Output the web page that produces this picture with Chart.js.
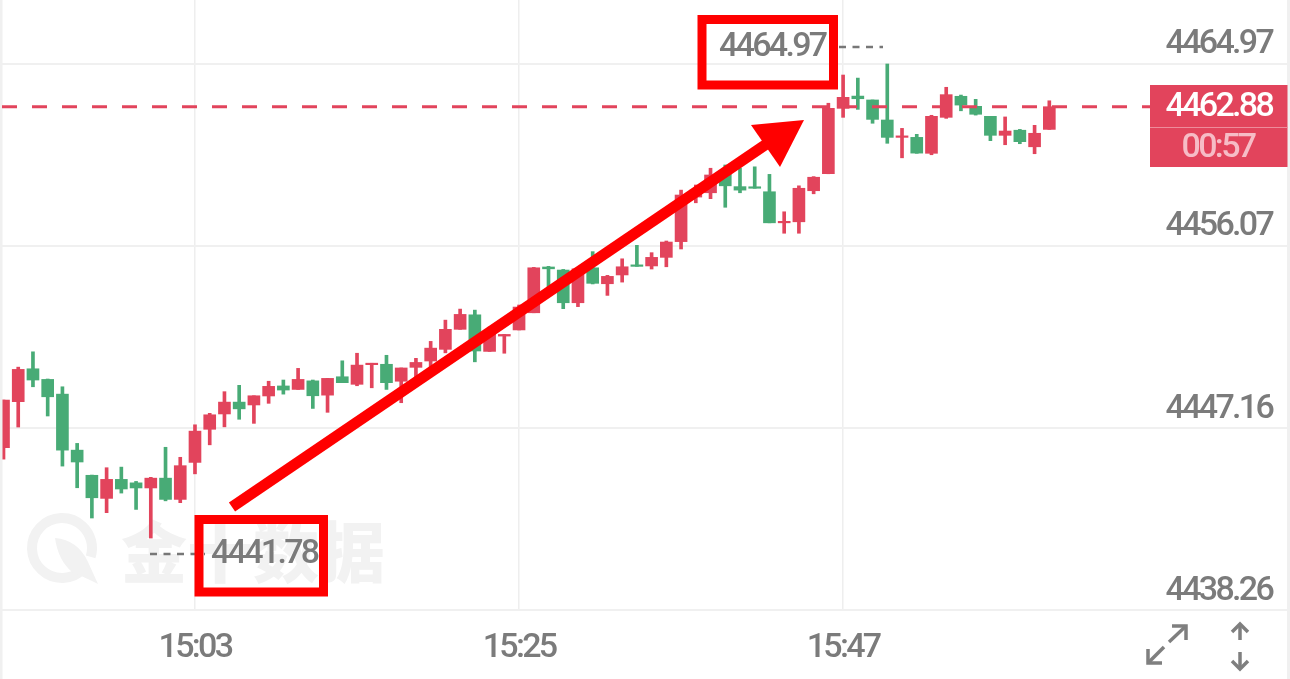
<!DOCTYPE html>
<html>
<head>
<meta charset="utf-8">
<style>
html, body { margin: 0; padding: 0; background: #fff; overflow: hidden; }
canvas { display: block; }
</style>
<script src="https://cdn.jsdelivr.net/npm/chart.js@4/dist/chart.umd.min.js"></script>
</head>
<body>
<canvas id="chart1" width="1290" height="679"></canvas>
<script>
// one candle per minute, index 0 = 14:50
const opens = [4446.20,4448.45,4450.06,4449.54,4448.82,4446.08,4444.85,4443.72,4444.65,4444.48,4444.23,4444.71,4443.67,4445.48,4447.10,4447.85,4448.43,4448.29,4448.73,4449.22,4449.05,4449.47,4448.77,4449.67,4449.30,4450.26,4450.28,4449.45,4450.13,4450.44,4451.01,4451.99,4452.70,4450.91,4451.66,4451.96,4452.80,4455.04,4454.89,4453.29,4455.00,4454.22,4454.65,4455.10,4455.09,4455.51,4456.28,4458.46,4458.67,4459.69,4458.97,4458.94,4458.72,4457.20,4457.25,4458.77,4459.60,4462.80,4463.40,4463.21,4462.23,4461.38,4461.38,4460.60,4462.36,4463.39,4462.90,4462.41,4461.48,4461.73,4460.92,4461.77];
const highs = [4448.53,4450.14,4450.89,4449.56,4449.18,4446.41,4444.86,4445.22,4445.25,4444.55,4444.75,4446.22,4445.73,4447.32,4447.88,4448.94,4449.25,4448.74,4449.45,4449.51,4450.08,4449.51,4449.59,4450.45,4450.82,4450.33,4450.72,4450.10,4450.57,4451.40,4452.44,4452.98,4452.93,4452.10,4451.74,4453.18,4455.02,4455.07,4454.92,4454.95,4455.79,4454.63,4455.44,4456.10,4455.74,4456.31,4458.80,4459.05,4459.87,4460.03,4459.88,4459.94,4459.57,4457.74,4459.01,4459.46,4463.05,4464.43,4464.28,4463.21,4464.97,4461.82,4461.53,4462.46,4463.83,4463.45,4463.24,4462.41,4462.38,4461.77,4461.97,4463.17];
const lows = [4445.64,4447.21,4449.18,4447.75,4445.30,4444.24,4442.76,4443.02,4443.98,4443.18,4441.78,4443.60,4443.51,4444.92,4446.34,4447.22,4447.59,4447.39,4448.37,4448.82,4449.05,4448.12,4447.93,4449.38,4449.23,4449.13,4449.05,4448.40,4449.59,4450.08,4450.84,4451.99,4450.40,4450.91,4450.82,4451.96,4452.80,4454.04,4453.00,4453.10,4454.21,4453.65,4454.30,4455.07,4454.94,4455.05,4455.92,4458.18,4458.38,4457.96,4458.67,4458.89,4457.20,4456.69,4456.69,4458.62,4459.60,4462.36,4462.75,4462.07,4461.09,4460.38,4460.60,4460.53,4462.31,4462.68,4462.47,4461.22,4461.02,4461.07,4460.58,4461.77];
const closes = [4448.53,4450.03,4449.51,4448.69,4446.08,4445.50,4443.75,4444.65,4444.18,4444.23,4444.71,4443.67,4445.32,4447.01,4447.81,4448.43,4448.10,4448.74,4449.20,4449.02,4449.54,4448.74,4449.59,4449.38,4450.24,4450.33,4449.38,4450.10,4450.37,4451.07,4451.99,4452.72,4450.93,4451.81,4451.74,4453.08,4455.00,4454.95,4453.29,4454.95,4454.24,4454.58,4455.05,4455.07,4455.51,4456.26,4458.56,4458.80,4459.54,4459.01,4458.80,4458.89,4457.20,4457.24,4458.89,4459.43,4462.80,4463.34,4463.27,4462.26,4461.38,4461.41,4460.61,4462.41,4463.47,4462.96,4462.51,4461.48,4461.69,4461.17,4461.58,4462.88];

const yTicks = [4438.26, 4447.16, 4456.07, 4464.97];
const xTickIndexes = [13, 35, 57];
const xTickLabels = ["15:03", "15:25", "15:47"];
const highLabel = "4464.97";
const lowLabel = "4441.78";
const lastPrice = 4462.88;
const lastLabel = "4462.88";
const countdown = "00:57";
const watermark = "金十数据";

const RED = "#e2445c";
const GREEN = "#48ab76";
const GREY = "#7b7b7b";
const PEN = "#ff0000";
const labelFont = '500 34px Roboto';
const squeeze = "-2.7px";

function candleColor(ctx) {
    return closes[ctx.dataIndex] >= opens[ctx.dataIndex] ? RED : GREEN;
}

function line(ctx, pts) {
    ctx.beginPath();
    pts.forEach((p, i) => i ? ctx.lineTo(p[0], p[1]) : ctx.moveTo(p[0], p[1]));
    ctx.stroke();
}

// watermark sits behind the candles
const behind = {
    id: "behind",
    beforeDatasetsDraw(chart) {
        const ctx = chart.ctx;
        ctx.save();
        ctx.letterSpacing = "0px";
        ctx.strokeStyle = "#f2f2f2";
        ctx.fillStyle = "#f2f2f2";
        ctx.lineWidth = 10;
        ctx.beginPath();
        ctx.arc(62, 548, 30, 0.75, Math.PI * 2 + 0.3);
        ctx.stroke();
        ctx.beginPath();
        ctx.moveTo(55, 538);
        ctx.quadraticCurveTo(78, 540, 88, 562);
        ctx.lineTo(98, 584);
        ctx.quadraticCurveTo(78, 574, 72, 572);
        ctx.quadraticCurveTo(58, 560, 55, 538);
        ctx.fill();
        ctx.font = '900 66px "Noto Sans CJK SC"';
        ctx.textAlign = "left";
        ctx.textBaseline = "middle";
        ctx.fillText(watermark, 121, 552);
        ctx.restore();
    }
};

// last price line, high/low notes, hand drawn boxes + arrow, price tag and corner icons
const overlay = {
    id: "overlay",
    beforeDraw(chart) {
        chart.ctx.letterSpacing = squeeze;
    },
    afterDraw(chart) {
        const ctx = chart.ctx;
        const y = chart.scales.y.getPixelForValue(lastPrice);

        ctx.save();
        ctx.letterSpacing = squeeze;

        // faint frame at both sides
        ctx.strokeStyle = "#f0f0f0";
        ctx.lineWidth = 3;
        line(ctx, [[1, 0], [1, 679]]);
        line(ctx, [[1288.5, 0], [1288.5, 679]]);

        ctx.strokeStyle = RED;
        ctx.lineWidth = 3;
        ctx.setLineDash([15, 15]);
        ctx.lineDashOffset = -2;
        line(ctx, [[0, y], [1150, y]]);

        ctx.strokeStyle = "#777";
        ctx.lineWidth = 2.7;
        ctx.setLineDash([7, 6.5]);
        ctx.lineDashOffset = 0;
        line(ctx, [[839, 47], [883, 47]]);
        line(ctx, [[150, 554], [205, 554]]);
        ctx.setLineDash([]);

        ctx.font = labelFont;
        ctx.fillStyle = GREY;
        ctx.textAlign = "left";
        ctx.textBaseline = "middle";
        ctx.fillText(highLabel, 719, 47);
        ctx.fillText(lowLabel, 211, 554);

        ctx.strokeStyle = PEN;
        ctx.lineWidth = 9;
        ctx.strokeRect(702, 19.5, 131.5, 65.5);
        ctx.strokeRect(199, 519.5, 124.5, 72.5);

        ctx.lineWidth = 11;
        line(ctx, [[232, 507], [768, 143]]);
        ctx.fillStyle = PEN;
        ctx.beginPath();
        ctx.moveTo(804, 120);
        ctx.lineTo(751, 125);
        ctx.lineTo(780, 167);
        ctx.closePath();
        ctx.fill();

        ctx.fillStyle = RED;
        ctx.fillRect(1150, 85, 137.5, 82);
        ctx.fillStyle = "#ee8c9b";
        ctx.fillRect(1150, 127, 137.5, 1);
        ctx.fillStyle = "#fff";
        ctx.textAlign = "right";
        ctx.fillText(lastLabel, 1272, 107);
        ctx.fillStyle = "#f6bcc6";
        ctx.textAlign = "center";
        ctx.fillText(countdown, 1218, 148);

        ctx.strokeStyle = "#7f7f7f";
        ctx.lineWidth = 3.5;
        line(ctx, [[1169, 642], [1186, 626]]);
        line(ctx, [[1172, 626], [1186, 626], [1186, 640]]);
        line(ctx, [[1164, 647], [1148, 663]]);
        line(ctx, [[1148, 649], [1148, 663], [1162, 663]]);
        line(ctx, [[1240, 640], [1240, 625]]);
        line(ctx, [[1232, 632], [1240, 624], [1248, 632]]);
        line(ctx, [[1240, 652], [1240, 668]]);
        line(ctx, [[1232, 661], [1240, 669], [1248, 661]]);
        ctx.restore();
    }
};

new Chart("chart1", {
    type: "bar",
    plugins: [behind, overlay],
    data: {
        datasets: [{
            // wicks
            data: lows.map((l, i) => ({x: i, y: [l, highs[i]]})),
            backgroundColor: candleColor,
            barThickness: 3,
            grouped: false,
            order: 2
        }, {
            // bodies
            data: opens.map((o, i) => ({x: i, y: [o, closes[i]]})),
            backgroundColor: candleColor,
            barThickness: 12,
            minBarLength: 1.5,
            grouped: false,
            order: 1
        }]
    },
    options: {
        responsive: false,
        animation: false,
        layout: {padding: 0},
        plugins: {legend: {display: false}, tooltip: {enabled: false}},
        scales: {
            x: {
                type: "linear",
                offset: false,
                min: -0.2376,
                max: 87.34,
                border: {display: false},
                grid: {color: "#eeeeee", lineWidth: 1.5, drawTicks: false, offset: false},
                afterBuildTicks: scale => {
                    scale.ticks = xTickIndexes.map(value => ({value: value}));
                },
                afterFit: scale => {
                    scale.height = 69;
                    scale.paddingLeft = scale.paddingRight = 0;
                },
                ticks: {
                    autoSkip: false,
                    maxRotation: 0,
                    minRotation: 0,
                    padding: 18,
                    color: GREY,
                    font: {family: "Roboto", size: 34, weight: "500"},
                    callback: value => xTickLabels[xTickIndexes.indexOf(value)]
                }
            },
            y: {
                position: "right",
                min: 4438.26,
                max: 4468.10,
                border: {display: false},
                grid: {color: "#f0f0f0", lineWidth: 2, drawTicks: false},
                afterBuildTicks: scale => {
                    scale.ticks = yTicks.map(value => ({value: value}));
                },
                afterFit: scale => {
                    scale.width = 0;
                    scale.paddingTop = scale.paddingBottom = 0;
                },
                ticks: {
                    autoSkip: false,
                    mirror: true,
                    padding: -18,
                    labelOffset: -19,
                    color: GREY,
                    font: {family: "Roboto", size: 34, weight: "500"},
                    callback: value => value.toFixed(2)
                }
            }
        }
    }
});
</script>
</body>
</html>
